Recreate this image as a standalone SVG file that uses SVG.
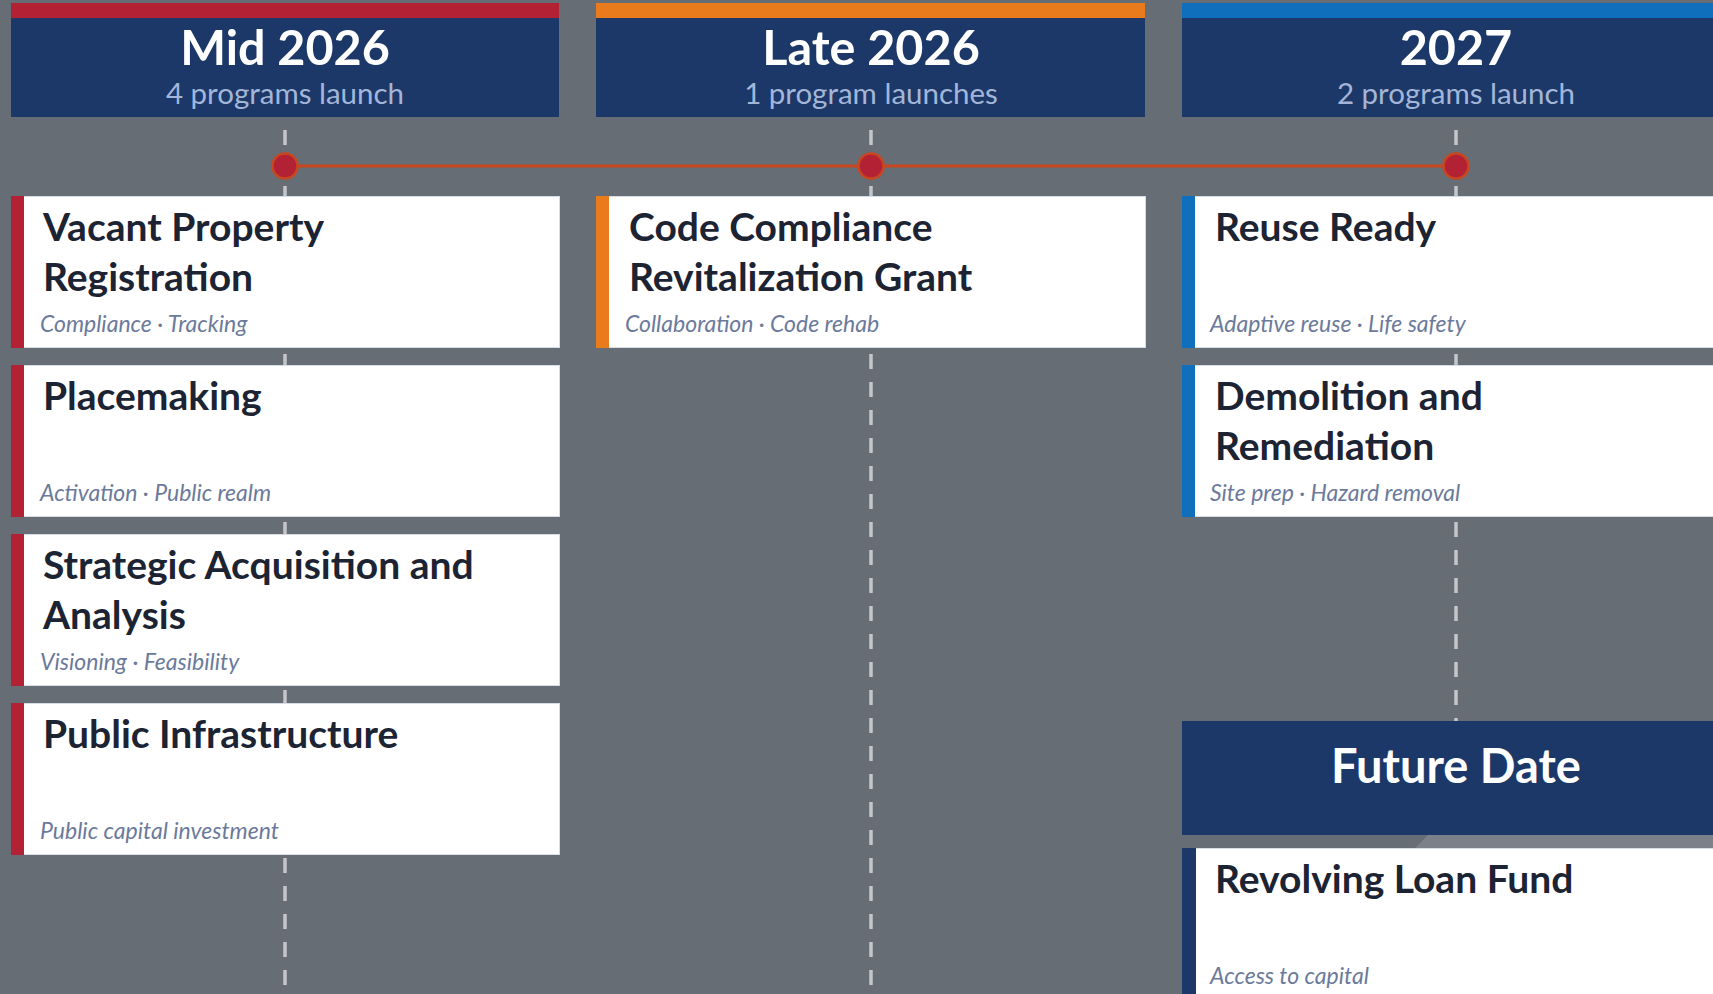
<svg xmlns="http://www.w3.org/2000/svg" width="1713" height="994" viewBox="0 0 1713 994">
<style>
.bg{fill:#676d75}
.hdr{fill:#1c3869}
.htitle{font-family:Lato,"Liberation Sans",sans-serif;font-weight:700;font-size:48.5px;fill:#ffffff;text-anchor:middle}
.hsub{font-family:Lato,"Liberation Sans",sans-serif;font-size:29.5px;fill:#a3b6d8;text-anchor:middle}
.card{fill:#ffffff;stroke:#d6dce8;stroke-width:1}
.ctitle{font-family:Lato,"Liberation Sans",sans-serif;font-weight:700;font-size:39px;fill:#1c2333}
.csub{font-family:Lato,"Liberation Sans",sans-serif;font-style:italic;font-size:23px;fill:#6b7a9b}
.dash{stroke:#c4c6c9;stroke-width:3.5;stroke-dasharray:15 13;fill:none}
.axis{stroke:#c9461f;stroke-width:3;fill:none}
.dot{fill:#b22234;stroke:#c9461f;stroke-width:2.5}
</style>
<rect class="bg" x="0" y="0" width="1713" height="994"/>

<g id="connectors">
  <line class="dash" x1="285" y1="130" x2="285" y2="994"/>
  <line class="dash" x1="871" y1="130" x2="871" y2="994"/>
  <line class="dash" x1="1456" y1="130" x2="1456" y2="994"/>
  <line class="axis" x1="285" y1="166" x2="1456" y2="166"/>
</g>

<g id="hdr-mid2026">
  <rect x="11" y="3" width="548" height="15" fill="#b22234"/>
  <rect class="hdr" x="11" y="18" width="548" height="99"/>
  <text class="htitle" x="285" y="65">Mid 2026</text>
  <text class="hsub" x="285" y="104">4 programs launch</text>
</g>
<g id="hdr-late2026">
  <rect x="596" y="3" width="549" height="15" fill="#e97b1c"/>
  <rect class="hdr" x="596" y="18" width="549" height="99"/>
  <text class="htitle" x="871" y="65">Late 2026</text>
  <text class="hsub" x="871" y="104">1 program launches</text>
</g>
<g id="hdr-2027">
  <rect x="1182" y="3" width="560" height="15" fill="#0f6fbd"/>
  <rect class="hdr" x="1182" y="18" width="560" height="99"/>
  <text class="htitle" x="1456" y="65">2027</text>
  <text class="hsub" x="1456" y="104">2 programs launch</text>
</g>

<g id="dot-mid2026"><circle class="dot" cx="285" cy="166" r="12.5"/></g>
<g id="dot-late2026"><circle class="dot" cx="871" cy="166" r="12.5"/></g>
<g id="dot-2027"><circle class="dot" cx="1456" cy="166" r="12.5"/></g>

<g id="card-vacant">
  <rect class="card" x="11.5" y="196.5" width="548" height="151"/>
  <rect x="11" y="196" width="13" height="152" fill="#b22234"/>
  <text class="ctitle" x="43" y="241">Vacant Property</text>
  <text class="ctitle" x="43" y="291">Registration</text>
  <text class="csub" x="40" y="332">Compliance · Tracking</text>
</g>
<g id="card-placemaking">
  <rect class="card" x="11.5" y="365.5" width="548" height="151"/>
  <rect x="11" y="365" width="13" height="152" fill="#b22234"/>
  <text class="ctitle" x="43" y="410">Placemaking</text>
  <text class="csub" x="40" y="501">Activation · Public realm</text>
</g>
<g id="card-strategic">
  <rect class="card" x="11.5" y="534.5" width="548" height="151"/>
  <rect x="11" y="534" width="13" height="152" fill="#b22234"/>
  <text class="ctitle" x="43" y="579">Strategic Acquisition and</text>
  <text class="ctitle" x="43" y="629">Analysis</text>
  <text class="csub" x="40" y="670">Visioning · Feasibility</text>
</g>
<g id="card-infrastructure">
  <rect class="card" x="11.5" y="703.5" width="548" height="151"/>
  <rect x="11" y="703" width="13" height="152" fill="#b22234"/>
  <text class="ctitle" x="43" y="748">Public Infrastructure</text>
  <text class="csub" x="40" y="839">Public capital investment</text>
</g>

<g id="card-codecompliance">
  <rect class="card" x="596.5" y="196.5" width="549" height="151"/>
  <rect x="596" y="196" width="13" height="152" fill="#e97b1c"/>
  <text class="ctitle" x="629" y="241">Code Compliance</text>
  <text class="ctitle" x="629" y="291">Revitalization Grant</text>
  <text class="csub" x="625" y="332">Collaboration · Code rehab</text>
</g>

<g id="card-reuse">
  <rect class="card" x="1182.5" y="196.5" width="560" height="151"/>
  <rect x="1182" y="196" width="13" height="152" fill="#0f6fbd"/>
  <text class="ctitle" x="1215" y="241">Reuse Ready</text>
  <text class="csub" x="1210" y="332">Adaptive reuse · Life safety</text>
</g>
<g id="card-demolition">
  <rect class="card" x="1182.5" y="365.5" width="560" height="151"/>
  <rect x="1182" y="365" width="13" height="152" fill="#0f6fbd"/>
  <text class="ctitle" x="1215" y="410">Demolition and</text>
  <text class="ctitle" x="1215" y="460">Remediation</text>
  <text class="csub" x="1210" y="501">Site prep · Hazard removal</text>
</g>

<g id="hdr-future">
  <polygon points="1428,835 1713,835 1713,848 1415,848" fill="#7c8189"/>
  <rect class="hdr" x="1182" y="721" width="560" height="114"/>
  <text class="htitle" x="1456" y="783" style="font-size:47px">Future Date</text>
</g>
<g id="card-revolving">
  <rect class="card" x="1182.5" y="848.5" width="560" height="151"/>
  <rect x="1182" y="848" width="14" height="152" fill="#1c3869"/>
  <text class="ctitle" x="1215" y="893">Revolving Loan Fund</text>
  <text class="csub" x="1210" y="984">Access to capital</text>
</g>
</svg>
